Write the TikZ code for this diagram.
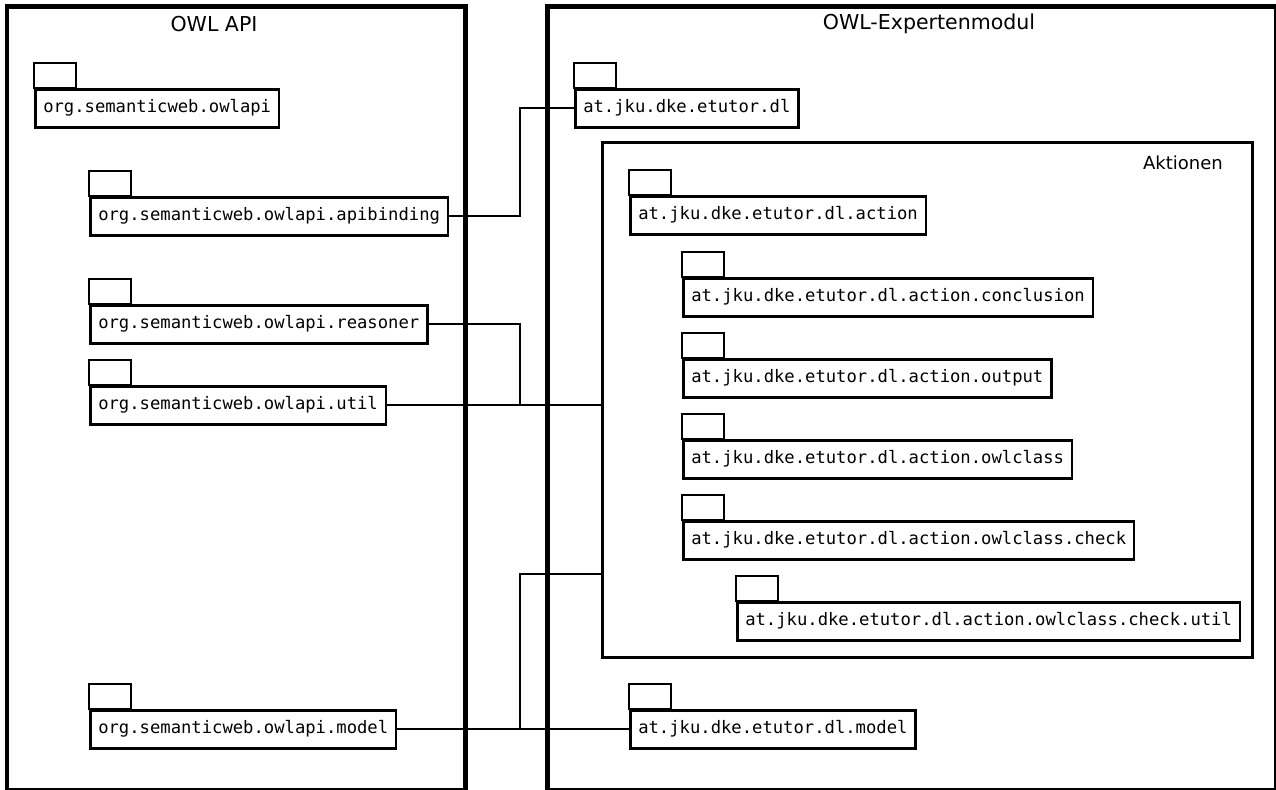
\documentclass[tikz,border=0pt]{standalone}
\usepackage{fontspec}
\setmainfont{DejaVu Sans}
\newfontfamily\pkgfont{DejaVu Sans Mono}
\begin{document}
\begin{tikzpicture}[x=0.75pt,y=-0.75pt,
  pkg/.style={draw, line width=1.9pt, fill=white,
    font=\pkgfont\fontsize{12.9pt}{15pt}\selectfont,
    anchor=north west, inner xsep=6pt, inner ysep=0pt,
    minimum height=28.5pt, text height=9.5pt, text depth=2.8pt},
  tab/.style={draw, line width=1.9pt},
  panel/.style={draw, line width=3.6pt},
  link/.style={draw, line width=1.8pt},
  title/.style={font=\fontsize{15.4pt}{18pt}\selectfont, inner sep=0pt},
  ]
\useasboundingbox (0,0) rectangle (1276,789);
\clip (0,0) rectangle (1276,789);

% the two modules
\draw[panel] (7,6.5) rectangle (465.5,790.5);
\draw[panel] (547.5,6.5) rectangle (1276.5,790.5);
\node[title] (owlapititle) at (214,24) {OWL API};
\node[title] (experttitle) at (929,24) {OWL-Expertenmodul};

% group of action packages
\node[draw, line width=1.9pt, anchor=north west, inner sep=0pt,
      minimum width=487.5pt, minimum height=386.25pt] (aktionen) at (601,141) {};
\node[font=\fontsize{13.5pt}{16pt}\selectfont, inner sep=0pt] (aktlabel) at (1183,163) {Aktionen};

% packages of the OWL API
\node[pkg] (owlapi) at (34,88) {org.semanticweb.owlapi};
\node[pkg] (apib) at (89,196) {org.semanticweb.owlapi.apibinding};
\node[pkg] (reas) at (89,304) {org.semanticweb.owlapi.reasoner};
\node[pkg] (util) at (89,385) {org.semanticweb.owlapi.util};
\node[pkg] (model) at (89,709) {org.semanticweb.owlapi.model};

% packages of the expert module
\node[pkg] (dl) at (574,88) {at.jku.dke.etutor.dl};
\node[pkg] (act) at (629,195) {at.jku.dke.etutor.dl.action};
\node[pkg] (concl) at (682,277) {at.jku.dke.etutor.dl.action.conclusion};
\node[pkg] (outp) at (682,358) {at.jku.dke.etutor.dl.action.output};
\node[pkg] (owlc) at (682,439) {at.jku.dke.etutor.dl.action.owlclass};
\node[pkg] (check) at (682,520) {at.jku.dke.etutor.dl.action.owlclass.check};
\node[pkg] (cutil) at (736,601) {at.jku.dke.etutor.dl.action.owlclass.check.util};
\node[pkg] (dlmodel) at (629,709) {at.jku.dke.etutor.dl.model};

% package tabs
\foreach \n in {owlapi,apib,reas,util,model,dl,act,concl,outp,owlc,check,cutil,dlmodel}
  \draw[tab] (\n.north west) rectangle ++(42,-25);

% dependencies
\coordinate (busx) at (520,0);
\coordinate (busy) at (0,574);
\draw[link] (apib.east) -- (apib.east -| busx) |- (dl.west);
\draw[link] (reas.east) -- (reas.east -| busx) |- (util.east -| aktionen.west);
\draw[link] (util.east) -- (util.east -| aktionen.west);
\draw[link] (model.east) -- (dlmodel.west);
\draw[link] (model.east -| busx) |- (busy -| aktionen.west);
\end{tikzpicture}
\end{document}
